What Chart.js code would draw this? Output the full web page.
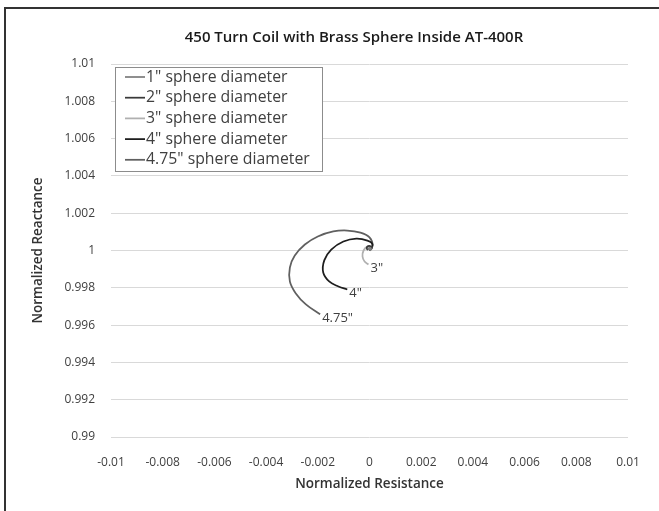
<!DOCTYPE html>
<html>
<head>
  <meta charset="UTF-8">
  <title>450 Turn Coil with Brass Sphere Inside AT-400R</title>
  <script src="https://cdn.jsdelivr.net/npm/chart.js"></script>
  <style>
    body {
      margin: 0;
      background: white;
      overflow: hidden;
    }
    #frame {
      position: absolute;
      left: 4px;
      top: 7px;
      width: 700px;
      height: 600px;
      border-left: 2px solid #333;
      border-top: 2px solid #333;
    }
    #wrap {
      position: absolute;
      left: 0;
      top: 0;
      width: 659px;
      height: 511px;
    }
  </style>
</head>
<body>
  <div id="frame"></div>
  <div id="wrap"><canvas id="coilChart" width="659" height="511"></canvas></div>

  <script>
    // values
    const xTicks = [-0.01, -0.008, -0.006, -0.004, -0.002, 0, 0.002, 0.004, 0.006, 0.008, 0.01];
    const yTicks = [0.99, 0.992, 0.994, 0.996, 0.998, 1, 1.002, 1.004, 1.006, 1.008, 1.01];

    const seriesNames = ['1" sphere diameter', '2" sphere diameter', '3" sphere diameter', '4" sphere diameter', '4.75" sphere diameter'];
    const endLabels = ['', '', '3"', '4"', '4.75"'];
    const seriesColors = ['#7f7f7f', '#3a3a3a', '#b0b0b0', '#1e1e1e', '#606060'];

    const res1 = [0, 0.00006, 0.00002, -0.00004, -0.00002];
    const rea1 = [1, 1.00008, 1.00014, 1.0001, 1.00004];

    const res2 = [0, 0.0001, 0.00002, -0.00009, -0.0001, -0.00005];
    const rea2 = [1, 1.00014, 1.00024, 1.0002, 1.0001, 1.00003];

    const res3 = [0, 0.00008, -0.00008, -0.00023, -0.00027, -0.00019, -0.00004];
    const rea3 = [1, 1.00016, 1.00021, 1.0, 0.99968, 0.99941, 0.99925];

    const res4 = [0, 0.00012, -0.00008, -0.00051, -0.00101, -0.00148, -0.00175, -0.00179, -0.00156, -0.0012, -0.00086];
    const rea4 = [1, 1.00032, 1.00053, 1.00064, 1.00048, 1.00005, 0.99947, 0.99882, 0.99834, 0.99807, 0.99791];

    const res475 = [0, 0.00012, 0, -0.00035, -0.00086, -0.0014, -0.002, -0.0025, -0.00289, -0.00308, -0.00308, -0.00285, -0.00246, -0.00191];
    const rea475 = [1, 1.00027, 1.0007, 1.00096, 1.00107, 1.00102, 1.00075, 1.00032, 0.99973, 0.99909, 0.99834, 0.9977, 0.99711, 0.99658];

    const allRes = [res1, res2, res3, res4, res475];
    const allRea = [rea1, rea2, rea3, rea4, rea475];

    const fontFamily = "'Open Sans', 'Liberation Sans', sans-serif";

    function fmt(v) {
      return String(Number(v.toFixed(3)));
    }

    const datasets = seriesNames.map((name, i) => ({
      label: name,
      data: allRes[i].map((x, j) => ({ x: x, y: allRea[i][j] })),
      showLine: true,
      borderColor: seriesColors[i],
      backgroundColor: seriesColors[i],
      borderWidth: 1.75,
      pointRadius: 0,
      tension: 0.4,
      fill: false
    }));

    // title sits a bit right of the canvas middle in the original
    const shiftTitle = {
      id: 'shiftTitle',
      afterLayout(chart) {
        if (chart.titleBlock) chart.titleBlock.left += 54;
      }
    };

    // legend box inside the plot area, like the spreadsheet one
    const boxLegend = {
      id: 'boxLegend',
      afterDraw(chart) {
        const ctx = chart.ctx;
        const left = 115, top = 67, w = 207, h = 104;
        ctx.save();
        ctx.fillStyle = 'white';
        ctx.fillRect(left, top, w, h);
        ctx.strokeStyle = '#8c8c8c';
        ctx.lineWidth = 1;
        ctx.strokeRect(left + 0.5, top + 0.5, w, h);
        ctx.font = '15.8px ' + fontFamily;
        ctx.textBaseline = 'middle';
        chart.data.datasets.forEach((ds, i) => {
          const y = top + 10 + i * 20.7;
          ctx.strokeStyle = ds.borderColor;
          ctx.lineWidth = 1.75;
          ctx.beginPath();
          ctx.moveTo(125, y);
          ctx.lineTo(145, y);
          ctx.stroke();
          ctx.fillStyle = '#404040';
          ctx.fillText(ds.label, 146, y);
        });
        ctx.restore();
      }
    };

    // small text labels at the end of the three larger curves
    const endTags = {
      id: 'endTags',
      afterDatasetsDraw(chart) {
        const ctx = chart.ctx;
        const xs = chart.scales.x, ys = chart.scales.y;
        ctx.save();
        ctx.font = '13px ' + fontFamily;
        ctx.fillStyle = '#404040';
        ctx.textBaseline = 'middle';
        endLabels.forEach((txt, i) => {
          if (!txt) return;
          const n = allRes[i].length - 1;
          const px = xs.getPixelForValue(allRes[i][n]);
          const py = ys.getPixelForValue(allRea[i][n]);
          ctx.fillText(txt, px + 2, py + 4);
        });
        ctx.restore();
      }
    };

    new Chart(document.getElementById('coilChart'), {
      type: 'scatter',
      data: { datasets: datasets },
      options: {
        responsive: false,
        animation: false,
        layout: { padding: { left: 26, right: 31, top: 0, bottom: 15 } },
        plugins: {
          legend: { display: false },
          tooltip: { enabled: false },
          title: {
            display: true,
            text: '450 Turn Coil with Brass Sphere Inside AT-400R',
            color: '#1a1a1a',
            font: { family: fontFamily, size: 15, weight: '600' },
            padding: { top: 29, bottom: 17 }
          }
        },
        scales: {
          x: {
            type: 'linear',
            min: -0.01,
            max: 0.01,
            afterBuildTicks: scale => { scale.ticks = xTicks.map(v => ({ value: v })); },
            afterFit: scale => { scale.height = 59; },
            grid: { display: false },
            border: { display: false },
            ticks: {
              callback: v => fmt(v),
              color: '#404040',
              font: { family: fontFamily, size: 12 },
              maxRotation: 0,
              autoSkip: false,
              padding: 10
            },
            title: {
              display: true,
              text: 'Normalized Resistance',
              color: '#333333',
              font: { family: fontFamily, size: 13.5, weight: '600' },
              padding: { top: 4 }
            }
          },
          y: {
            type: 'linear',
            min: 0.99,
            max: 1.01,
            afterBuildTicks: scale => { scale.ticks = yTicks.map(v => ({ value: v })); },
            afterFit: scale => { scale.width = 85; },
            grid: { color: '#d9d9d9', lineWidth: 1, drawTicks: false },
            border: { display: false },
            ticks: {
              callback: v => fmt(v),
              color: '#404040',
              font: { family: fontFamily, size: 12 },
              autoSkip: false,
              padding: 16
            },
            title: {
              display: true,
              text: 'Normalized Reactance',
              color: '#333333',
              font: { family: fontFamily, size: 13.5, weight: '600' },
              padding: { bottom: 4 }
            }
          }
        }
      },
      plugins: [shiftTitle, boxLegend, endTags]
    });
  </script>
</body>
</html>
